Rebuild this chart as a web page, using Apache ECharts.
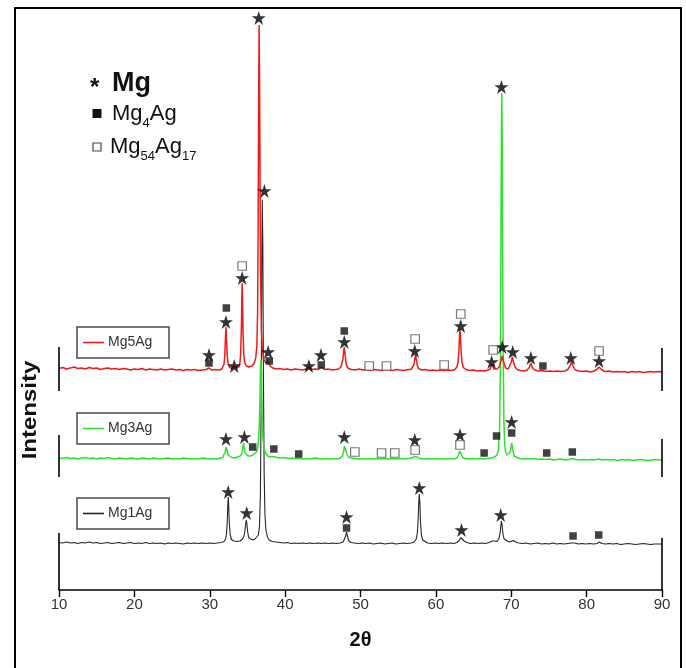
<!DOCTYPE html>
<html><head><meta charset="utf-8">
<script src="https://cdn.jsdelivr.net/npm/echarts@6/dist/echarts.min.js"></script>
<style>html,body{margin:0;padding:0;background:#fff}#c{width:686px;height:668px}</style>
</head><body><div id="c"></div>
<script>
// ---- axis / labels ----
const xTicks = [10, 20, 30, 40, 50, 60, 70, 80, 90];
const sampleNames = ['Mg1Ag', 'Mg3Ag', 'Mg5Ag'];
const phaseNames = ['Mg', 'Mg4Ag', 'Mg54Ag17'];
// vertical stacking offset of each pattern (intensity units)
const traceOffsets = [46, 130, 218];

// ---- patterns [2θ, intensity above own baseline] ----
const mg1Ag = [
 [10,1.5],[10.5,1],[11,2],[11.5,1],[12,1.5],[12.5,0.5],[13,1.5],[13.5,1],[14,2],[14.5,1],[15,1.5],[15.5,0.5],[16,1],[16.5,1.5],[17,0.5],[17.5,1],[18,1.5],[18.5,0.5],[19,1],[19.5,1.5],[20,0.5],[20.5,1],[21,0.5],[21.5,1.5],[22,0.5],[22.5,1],[23,0.5],[23.5,1],[24,0],[24.5,1],[25,0.5],[25.5,1],[26,0.5],[26.5,0],[27,1],[27.5,0.5],[28,1],[28.5,0.5],[29,1],[29.5,0.5],[30,1],[30.5,0.5],[31,1],[31.5,1.5],[31.9,2.5],
 [32.1,5],[32.22,10],[32.32,22],[32.39,38],[32.45,47],[32.51,38],[32.6,20],[32.72,9],[32.88,4.5],
 [33.2,3],[33.6,2.5],[34.0,3],[34.35,5],
 [34.55,8],[34.68,14],[34.78,21],[34.85,24],[34.93,20],[35.03,12],[35.18,6],[35.4,4],
 [35.7,4],[36.0,5],[36.25,6],[36.45,9],[36.6,18],[36.72,50],[36.82,140],[36.9,280],[36.97,344],[37.04,300],[37.12,170],[37.22,70],[37.32,30],[37.45,14],[37.65,7],[37.9,4],
 [38.3,2.5],[38.8,2],[39.3,1.5],[39.8,1],[40.3,1.5],[40.8,0.5],[41.3,1],[41.8,0.5],[42.3,1],[42.8,0.5],[43.3,1],[43.8,0.5],[44.3,1],[44.8,0.5],[45.3,1],[45.8,0.5],[46.3,1],[46.8,0.5],[47.3,1],[47.7,2],
 [47.9,4],[48.03,8],[48.15,12],[48.27,8],[48.42,3.5],[48.7,1.5],
 [49.2,1],[49.7,0.5],[50.2,1],[50.7,0.5],[51.2,1],[51.7,0],[52.2,0.5],[52.7,1],[53.2,0],[53.7,0.5],[54.2,1],[54.7,0],[55.2,0.5],[55.7,1],[56.2,0.5],[56.7,1],[57.1,2],[57.4,5],
 [57.55,12],[57.65,25],[57.73,42],[57.8,50],[57.87,42],[57.96,22],[58.08,9],[58.25,4],[58.5,2],
 [58.9,1],[59.4,0.5],[59.9,1],[60.4,0.5],[60.9,1],[61.4,0.5],[61.9,1],[62.4,0.5],[62.8,1.5],[63.1,3.5],[63.3,6.5],[63.42,8],[63.55,6],[63.75,3],[64.1,1.5],
 [64.6,0.5],[65.1,1],[65.6,0.5],[66.1,1],[66.6,0.5],[67.1,1.5],[67.45,3],[67.6,5],[67.75,3],[68.1,2.5],[68.35,5],[68.5,10],[68.62,18],[68.7,23],[68.78,19],[68.9,10],[69.05,5],[69.3,3],[69.7,2],[70.0,2.5],[70.3,3.5],[70.6,2],[71.0,1],
 [71.5,0.5],[72,1],[72.5,0],[73,0.5],[73.5,1],[74,0],[74.5,0.5],[75,0],[75.5,1],[76,0],[76.5,0.5],[77,0],[77.5,0.5],[78.0,1],[78.2,2],[78.4,1],[78.9,0],[79.4,0.5],[79.9,0],[80.4,0.5],[80.9,0],[81.4,0.5],[81.7,2],[82.0,0.5],[82.5,0],[83,0.5],[83.5,0],[84,0.5],[84.5,-0.5],[85,0],[85.5,0.5],[86,0],[86.5,-0.5],[87,0],[87.5,0.5],[88,0],[88.5,-0.5],[89,0],[89.5,0],[90,0]
];
const mg3Ag = [
 [10,2],[10.5,1.5],[11,2.5],[11.5,1.5],[12,2],[12.5,1],[13,2],[13.5,2.5],[14,1.5],[14.5,2],[15,1],[15.5,2],[16,1.5],[16.5,2.5],[17,1.5],[17.5,1],[18,2],[18.5,1.5],[19,1],[19.5,2],[20,1.5],[20.5,1],[21,2],[21.5,1.5],[22,1],[22.5,2],[23,1.5],[23.5,1],[24,1.5],[24.5,2],[25,1],[25.5,1.5],[26,1],[26.5,2],[27,1.5],[27.5,1],[28,1.5],[28.5,1],[29,2],[29.5,1.5],[30,1],[30.5,1.5],[31,1],[31.4,2],[31.7,2.5],
 [31.9,4],[32.05,8],[32.15,13],[32.22,14],[32.3,10],[32.42,5],[32.6,3],
 [32.9,2.5],[33.3,2],[33.7,3],[34.05,4],
 [34.25,7],[34.38,12],[34.47,17],[34.56,13],[34.68,7],[34.85,5],
 [35.1,4],[35.4,4],[35.7,5],[35.95,6],[36.2,8],[36.4,14],[36.55,30],[36.65,60],[36.73,95],[36.8,100],[36.87,85],[36.95,45],[37.05,22],[37.2,12],[37.4,7],[37.7,4],
 [38.1,3],[38.5,3.5],[38.9,2.5],[39.4,2],[39.9,2.5],[40.4,1.5],[40.9,2],[41.4,1.5],[41.9,2],[42.4,1],[42.9,1.5],[43.4,1],[43.9,2],[44.4,1.5],[44.9,1],[45.4,1.5],[45.9,1],[46.4,1.5],[46.9,1],[47.3,2],[47.6,4],
 [47.75,8],[47.87,14],[47.95,16],[48.05,12],[48.18,6],[48.4,3],
 [48.8,2],[49.3,1.5],[49.8,1],[50.3,1.5],[50.8,1],[51.3,1.5],[51.8,1],[52.3,1.5],[52.8,1],[53.3,1.5],[53.8,1],[54.3,1.5],[54.8,1],[55.3,1.5],[55.8,1],[56.3,1.5],[56.8,2],[57.1,3.5],[57.35,5],[57.6,3],[57.9,1.5],
 [58.4,1],[58.9,1.5],[59.4,1],[59.9,1.5],[60.4,1],[60.9,1.5],[61.4,1],[61.9,1.5],[62.4,1],[62.8,2],[63.0,5],[63.15,9],[63.22,10],[63.35,6],[63.55,2.5],[63.9,1.5],
 [64.4,1],[64.9,1.5],[65.4,1],[65.9,1.5],[66.4,1],[66.9,1.5],[67.4,2],[67.8,3],[68.1,5],[68.3,10],[68.45,30],[68.55,90],[68.62,200],[68.7,330],[68.75,367],[68.8,320],[68.86,200],[68.94,100],[69.02,40],[69.12,16],[69.25,8],[69.45,5],[69.7,5],[69.85,8],
 [69.95,12],[70.05,17],[70.15,14],[70.28,7],[70.45,3.5],[70.7,2],
 [71.1,1.5],[71.6,1],[72.1,1.5],[72.6,1],[73.1,1.5],[73.6,0.5],[74.1,1],[74.6,0.5],[75.1,1],[75.6,0],[76.1,0.5],[76.6,1],[77.1,0],[77.6,0.5],[78.1,1.5],[78.6,0.5],[79.1,0],[79.6,0.5],[80.1,0],[80.6,0.5],[81.1,0],[81.6,1],[82.1,0],[82.6,0.5],[83.1,0],[83.6,0.5],[84.1,-0.5],[84.6,0.5],[85.1,0],[85.6,0.5],[86.1,-0.5],[86.6,0],[87.1,0.5],[87.6,0],[88.1,-0.5],[88.6,0],[89.1,0.5],[89.6,0],[90,0]
];
const mg5Ag = [
 [10,3.5],[10.5,4.5],[11,3],[11.5,4],[12,5],[12.5,3.5],[13,4],[13.5,3],[14,4.5],[14.5,3.5],[15,4],[15.5,2.5],[16,3.5],[16.5,4],[17,3],[17.5,3.5],[18,2.5],[18.5,3.5],[19,3],[19.5,2],[20,3],[20.5,2.5],[21,3.5],[21.5,2],[22,3],[22.5,2.5],[23,2],[23.5,3],[24,2],[24.5,2.5],[25,3],[25.5,2],[26,2.5],[26.5,1.5],[27,2.5],[27.5,2],[28,2.5],[28.5,1.5],[29,2],[29.5,2.5],[29.9,4],[30.3,2],[30.8,2.5],[31.3,2],[31.6,3],
 [31.75,5],[31.9,8],[32.0,17],[32.08,34],[32.15,45],[32.22,34],[32.32,16],[32.45,8],[32.6,5],
 [32.9,3.5],[33.25,6],[33.55,4],[33.85,5],
 [34.0,9],[34.1,18],[34.2,45],[34.26,75],[34.3,89],[34.35,72],[34.42,40],[34.52,17],[34.65,9],[34.85,6],
 [35.2,5],[35.6,6],[35.9,9],
 [36.1,14],[36.25,26],[36.35,60],[36.42,150],[36.48,260],[36.55,347],[36.61,290],[36.68,180],[36.75,95],[36.85,42],[36.98,22],[37.15,13],
 [37.45,9],[37.75,11],[38.0,6],[38.4,4],[38.8,3],[39.3,3.5],[39.8,2.5],[40.3,3],[40.8,2],[41.3,3],[41.8,2.5],[42.3,2],[42.8,3],[43.15,5],[43.5,2.5],[44.0,3],[44.4,2.5],[44.8,5],[45.2,2.5],[45.7,3],[46.2,2],[46.7,2.5],[47.1,3],[47.4,5],
 [47.55,7],[47.67,13],[47.77,21],[47.85,25],[47.93,20],[48.03,11],[48.18,6],[48.4,3.5],
 [48.8,2.5],[49.3,2],[49.8,3],[50.3,2],[50.8,2.5],[51.3,1.5],[51.8,2.5],[52.3,2],[52.8,1.5],[53.3,2.5],[53.8,2],[54.3,1.5],[54.8,2.5],[55.3,2],[55.8,1.5],[56.3,2.5],[56.7,2.5],[56.95,4],
 [57.08,7],[57.18,12],[57.3,17],[57.42,12],[57.52,7],[57.7,3.5],
 [58.1,2],[58.6,2.5],[59.1,1.5],[59.6,2],[60.1,1.5],[60.6,2],[61.1,1.5],[61.6,2],[62.1,1.5],[62.5,2.5],[62.8,5],
 [62.95,10],[63.05,20],[63.13,35],[63.2,43],[63.27,35],[63.36,19],[63.48,9],[63.65,4.5],
 [64.0,2.5],[64.5,1.5],[65.0,2],[65.5,1],[66.0,1.5],[66.5,1],[66.9,2],[67.2,3],[67.45,8],[67.7,3],[68.1,3],[68.4,5],[68.6,10],[68.8,16],[69.0,10],[69.25,4],[69.6,3],[69.85,5],[70.0,10],[70.15,15],[70.3,10],[70.5,5],[70.8,2.5],[71.2,1.5],[71.7,1],[72.1,2],[72.4,4.5],[72.6,9],[72.8,4.5],[73.1,2],[73.6,1],[74.1,1.5],[74.6,0.5],[75.1,1],[75.6,0.5],[76.1,1],[76.6,0.5],[77.1,1],[77.5,2.5],[77.8,6],[78.0,10],[78.2,6],[78.5,2],[79.0,1],[79.5,0.5],[80.0,1],[80.5,0],[81.0,1],[81.35,2.5],[81.65,5],[81.95,2.5],[82.4,0.5],[83,1],[83.5,0],[84,0.5],[84.5,0],[85,0.5],[85.5,-0.5],[86,0.5],[86.5,0],[87,0.5],[87.5,-0.5],[88,0],[88.5,0.5],[89,0],[89.5,0.5],[90,0]
];

// ---- phase markers [2θ, absolute height on the stacked scale] ----
const mgStars = [
 [29.9,235],[32.15,268],[33.25,224],[34.3,312],[36.5,572],[37.25,399],[37.75,238],[43.15,224],[44.75,235],[47.85,248],[57.2,239],[63.3,264],[67.4,228],[68.8,243],[70.2,238],[72.6,232],[77.9,232],[81.65,229],
 [32.15,151],[34.6,153],[47.85,153],[57.2,150],[63.2,155],[68.7,503],[70.05,168],
 [32.45,98],[34.9,77],[48.15,73],[57.8,102],[63.4,60],[68.6,75]
];
const mg4AgMarks = [
 [29.9,227],[32.2,282],[37.9,229],[44.8,225],[47.85,259],[74.2,224],
 [35.7,143],[38.5,141],[41.8,136],[66.4,137],[68.05,154],[70.05,157],[74.7,137],[78.1,138],
 [48.15,62],[78.2,54],[81.6,55]
];
const mg54Ag17Marks = [
 [34.3,324],[51.15,224],[53.45,224],[57.25,251],[61.1,225],[63.3,276],[67.6,240],[81.65,239],
 [49.25,138],[52.8,137],[54.55,137],[57.25,140],[63.2,145]
];

const patterns = [mg1Ag, mg3Ag, mg5Ag];
const colors = ['#262626', '#30e030', '#ee1b1b'];
const FONT = "'Liberation Sans', Arial, sans-serif";
const STAR = 'path://M50,0 L62,36 L100,36 L69,58 L81,95 L50,72 L19,95 L31,58 L0,36 L38,36 Z';

const chart = echarts.init(document.getElementById('c'), null, {renderer: 'canvas'});

// frame bars at both ends of every pattern (left y1,y2 / right y1,y2 on stacked scale)
const ends = [[0, 57, 0, 52], [113, 155, 113, 151], [199, 243, 199, 242]];

const order = [1, 0, 2];
const lineSeries = order.map(i => ({
  type: 'line', name: sampleNames[i], z: 2 + i,
  data: patterns[i].map(p => [p[0], p[1] + traceOffsets[i]]),
  showSymbol: false, symbol: 'none', smooth: false, animation: false, silent: true,
  lineStyle: {color: colors[i], width: i === 0 ? 1.1 : 1.5},
  markLine: {
    symbol: 'none', silent: true, animation: false, label: {show: false},
    lineStyle: {color: '#000', width: 1.6, type: 'solid'},
    data: [
      [{coord: [xTicks[0], ends[i][0]]}, {coord: [xTicks[0], ends[i][1]]}],
      [{coord: [xTicks[xTicks.length - 1], ends[i][2]]}, {coord: [xTicks[xTicks.length - 1], ends[i][3]]}]
    ]
  }
}));

// text helpers for sub-scripted legend
const ctx = document.createElement('canvas').getContext('2d');
function tw(txt, size, bold) { ctx.font = (bold ? 'bold ' : '') + size + 'px ' + FONT; return ctx.measureText(txt).width; }
function mkText(t, x, y, size, bold, extra) {
  return Object.assign({type: 'text', x: x, y: y, silent: true,
    style: {text: t, font: (bold ? 'bold ' : '') + size + 'px ' + FONT, fill: '#111', textAlign: 'left', textVerticalAlign: 'middle'}}, extra || {});
}

const graphics = [];
// outer frame
graphics.push({type: 'rect', shape: {x: 15, y: 8, width: 666, height: 720}, style: {fill: 'none', stroke: '#000', lineWidth: 2}, silent: true, z: 100});
// y title
graphics.push({type: 'text', x: 31, y: 410, rotation: Math.PI / 2, scaleY: 0.82, silent: true,
  style: {text: 'Intensity', font: 'bold 24px ' + FONT, fill: '#111', textAlign: 'center', textVerticalAlign: 'middle'}});
// phase legend
graphics.push(mkText('*', 90, 88, 24, true));
graphics.push(mkText(phaseNames[0], 112, 84, 27, true));
graphics.push({type: 'rect', shape: {x: 92.5, y: 109, width: 9, height: 9}, style: {fill: '#111'}, silent: true});
graphics.push({type: 'rect', shape: {x: 93, y: 143, width: 8, height: 8}, style: {fill: '#fff', stroke: '#444', lineWidth: 1.2}, silent: true});
[[112, 122, [['Mg', 0], ['4', 1], ['Ag', 0]]], [110, 155, [['Mg', 0], ['54', 1], ['Ag', 0], ['17', 1]]]].forEach(([x, b, parts]) => {
  let cx = x;
  parts.forEach(([t, sub]) => {
    const size = sub ? 13 : 22;
    const by = sub ? b + 6 : b;
    graphics.push(mkText(t, cx, by - size * 0.36, size, false));
    cx += tw(t, size, false);
  });
});
// sample legend boxes
const boxTops = [498, 413, 327];
[2, 1, 0].forEach(i => {
  const top = boxTops[i], h = 31, cy = top + h / 2;
  graphics.push({type: 'rect', shape: {x: 77, y: top, width: 92, height: h}, style: {fill: '#fff', stroke: '#4a4a4a', lineWidth: 1.5}, silent: true, z: 50});
  graphics.push({type: 'line', shape: {x1: 83, y1: cy, x2: 104, y2: cy}, style: {stroke: colors[i], lineWidth: 1.6}, silent: true, z: 51});
  graphics.push({type: 'text', x: 108, y: cy, silent: true, z: 51,
    style: {text: sampleNames[i], font: '14px ' + FONT, fill: '#333', textAlign: 'left', textVerticalAlign: 'middle'}});
});

chart.setOption({
  animation: false,
  backgroundColor: '#fff',
  grid: {left: 59, right: 24, top: 8, bottom: 78, containLabel: false},
  xAxis: {
    type: 'value', min: xTicks[0], max: xTicks[xTicks.length - 1], interval: 10,
    name: '2θ', nameLocation: 'middle', nameGap: 40,
    nameTextStyle: {fontFamily: FONT, fontWeight: 'bold', fontSize: 20, color: '#111'},
    axisLine: {show: true, lineStyle: {color: '#000', width: 1.6}},
    axisTick: {show: true, length: 7, inside: false, lineStyle: {color: '#000', width: 1.4}},
    axisLabel: {fontFamily: FONT, fontSize: 15, color: '#333', margin: 7},
    splitLine: {show: false}
  },
  yAxis: {type: 'value', min: 0, max: 582, show: false, splitLine: {show: false}},
  series: [
    ...lineSeries,
    {type: 'scatter', name: phaseNames[0], data: mgStars, symbol: STAR, symbolSize: 14, z: 10, silent: true, animation: false, itemStyle: {color: '#000'}},
    {type: 'scatter', name: phaseNames[1], data: mg4AgMarks, symbol: 'rect', symbolSize: 7.5, z: 10, silent: true, animation: false, itemStyle: {color: '#111'}},
    {type: 'scatter', name: phaseNames[2], data: mg54Ag17Marks, symbol: 'rect', symbolSize: 8.5, z: 10, silent: true, animation: false, itemStyle: {color: '#fff', borderColor: '#555', borderWidth: 1.2}}
  ],
  graphic: {elements: graphics}
});
</script></body></html>
